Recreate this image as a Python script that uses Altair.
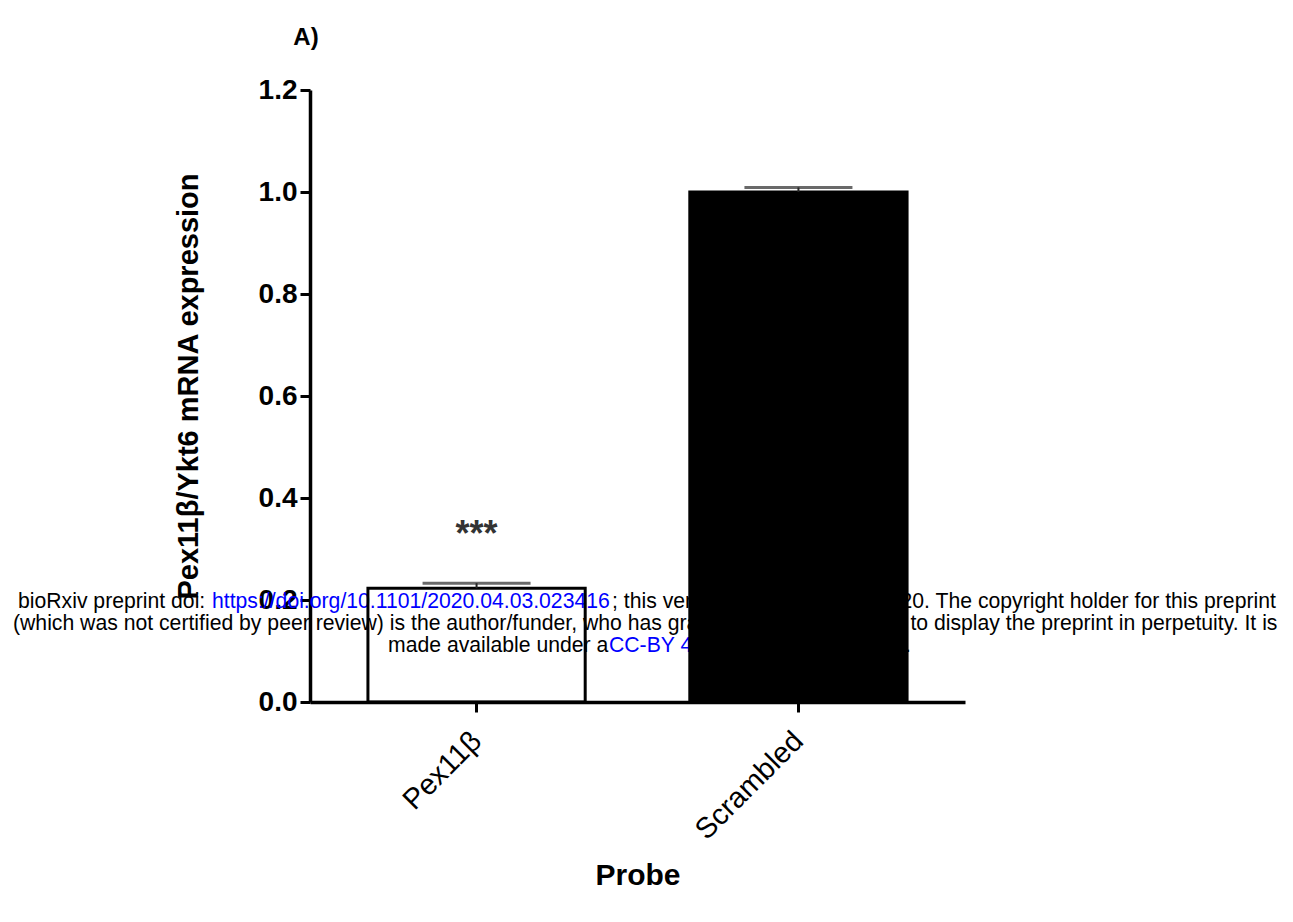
import altair as alt
import pandas as pd

# ---- data ----
probes = ["Pex11β", "Scrambled"]
means = [0.223, 1.0]
sem = [0.010, 0.009]
sig_probes = ["Pex11β"]
sig_labels = ["***"]
sig_y = [0.305]

df = pd.DataFrame({
    "probe": probes,
    "mean": means,
    "upper": [m + e for m, e in zip(means, sem)],
})
sig_df = pd.DataFrame({"probe": sig_probes, "label": sig_labels, "y": sig_y})

FONT = "Liberation Sans"
PLOT_X0, PLOT_Y0 = 310, 90  # page position of the plot origin (used for overlay text)

x_enc = alt.X(
    "probe:N",
    sort=probes,
    scale=alt.Scale(paddingInner=0.325, paddingOuter=0.18),
    axis=alt.Axis(
        title="Probe",
        labelAngle=-45,
        labelAlign="right",
        labelBaseline="middle",
        labelFontSize=29,
        labelFontWeight="normal",
        labelPadding=24,
        titleFontSize=30,
        titleFontWeight="bold",
        titleY=182,
        titleBaseline="alphabetic",
    ),
)

y_axis = alt.Axis(
    title="Pex11β/Ykt6 mRNA expression",
    values=[0, 0.2, 0.4, 0.6, 0.8, 1.0, 1.2],
    format=".1f",
    grid=False,
    labelFontSize=28,
    labelFontWeight="bold",
    labelPadding=3,
    titleFontSize=29,
    titleFontWeight="bold",
    titleAngle=270,
    titleAlign="center",
    titleBaseline="middle",
    titleX=-122,
    titleY=296,
)

bars = alt.Chart(df).mark_bar(stroke="black", strokeWidth=3).encode(
    x=x_enc,
    y=alt.Y("mean:Q", scale=alt.Scale(domain=[0, 1.2], nice=False), axis=y_axis),
    fill=alt.Fill(
        "probe:N",
        scale=alt.Scale(domain=probes, range=["rgba(255,255,255,0)", "#000000"]),
        legend=None,
    ),
)

stems = alt.Chart(df).mark_rule(color="#222222", strokeWidth=2).encode(
    x=alt.X("probe:N", sort=probes), y="mean:Q", y2="upper:Q"
)

caps = alt.Chart(df).mark_tick(color="#2a2a2a", size=108, thickness=3).encode(
    x=alt.X("probe:N", sort=probes), y="upper:Q"
)

stars = alt.Chart(sig_df).mark_text(
    font=FONT, fontSize=36, fontWeight="bold", color="#333333", baseline="alphabetic", align="center"
).encode(x=alt.X("probe:N", sort=probes), y="y:Q", text="label:N")

panel_label = alt.Chart(alt.Data(values=[{}])).mark_text(
    text="A)", font=FONT, fontSize=24, fontWeight="bold", align="center", baseline="alphabetic"
).encode(x=alt.value(306 - PLOT_X0), y=alt.value(45 - PLOT_Y0))

# ---- bioRxiv watermark (drawn underneath the chart) ----
BLACK, BLUE = "#000000", "#0000ff"
WM_SIZE = 21.2
wm_segments = [
    ("bioRxiv preprint doi: ", 18, 608, BLACK),
    ("https://doi.org/10.1101/2020.04.03.023416", 212, 608, BLUE),
    ("; this version posted April 6, 2020. The copyright holder for this preprint", 612, 608, BLACK),
    ("(which was not certified by peer review) is the author/funder, who has granted bioRxiv a license to display the preprint in perpetuity. It is", 13, 630, BLACK),
    ("made available under a", 388, 652, BLACK),
    ("CC-BY 4.0 International license", 609, 652, BLUE),
    (".", 905, 652, BLACK),
]
wm_layers = [
    alt.Chart(alt.Data(values=[{}])).mark_text(
        text=t, font=FONT, fontSize=WM_SIZE, color=c, align="left", baseline="alphabetic"
    ).encode(x=alt.value(xp - PLOT_X0), y=alt.value(yp - PLOT_Y0))
    for t, xp, yp, c in wm_segments
]

chart = alt.layer(*wm_layers, bars, stems, caps, stars, panel_label).properties(
    width=655,
    height=612,
    autosize=alt.AutoSizeParams(type="none"),
    padding={"left": 302, "top": 82, "right": 319, "bottom": 200},
).configure_view(stroke=None).configure_axis(
    labelFont=FONT,
    titleFont=FONT,
    labelColor="black",
    titleColor="black",
    domainColor="black",
    domainWidth=3.5,
    tickColor="black",
    tickWidth=3,
    tickSize=10,
)

chart.save("out.html", embed_options={"renderer": "svg", "actions": False})
